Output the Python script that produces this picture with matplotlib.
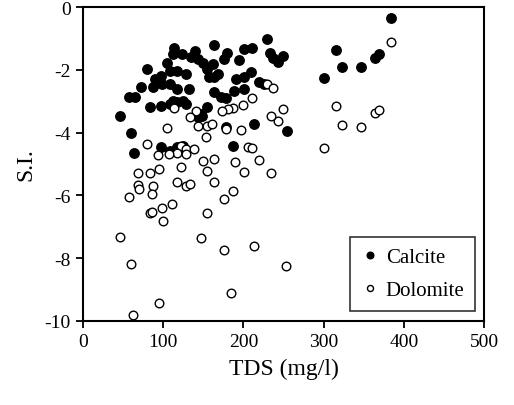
import matplotlib
matplotlib.use("Agg")
import matplotlib.pyplot as plt

plt.rcParams["font.family"] = ["Liberation Serif", "DejaVu Serif"]
plt.rcParams["axes.unicode_minus"] = False

# TDS (mg/l) and saturation index
calcite_tds = [384, 315, 323, 347, 364, 369, 301, 255, 249,
               230, 164, 211, 201, 114, 113, 140, 135, 144, 180, 176,
               233, 237, 243, 195, 150, 155, 105, 80, 118, 109,
               128, 168, 163, 157, 209, 201, 191, 97, 90, 219,
               226, 87, 99, 109, 118, 132, 72, 57, 65, 163,
               172, 178, 188, 201, 84, 97, 109, 118, 128, 147,
               155, 47, 60, 178, 213, 64, 97, 109, 118, 125,
               187, 124, 162, 143, 149, 113, 125]
calcite_si = [-0.35, -1.37, -1.91, -1.91, -1.63, -1.5, -2.27, -3.95, -1.56,
              -1.0, -1.2, -1.3, -1.34, -1.3, -1.5, -1.4, -1.6, -1.66, -1.45, -1.66,
              -1.45, -1.63, -1.76, -1.69, -1.77, -1.98, -1.77, -1.98, -2.03, -2.03,
              -2.14, -2.14, -2.24, -2.24, -2.08, -2.24, -2.3, -2.19, -2.3, -2.4,
              -2.46, -2.56, -2.46, -2.46, -2.62, -2.62, -2.53, -2.85, -2.85, -2.72,
              -2.85, -2.88, -2.68, -2.62, -3.19, -3.16, -3.09, -3.03, -3.09, -3.41,
              -3.19, -3.48, -4.02, -3.83, -3.73, -4.66, -4.47, -4.6, -4.47, -4.43,
              -4.43, -1.5, -1.8, -3.51, -3.48, -3.0, -3.0]

dolomite_tds = [384, 315, 323, 347, 364, 369, 301, 249, 243, 253,
                230, 237, 211, 199, 187, 181, 174, 234,
                141, 134, 143, 155, 161, 178, 197, 105, 153, 80,
                122, 128, 138, 118, 128, 94, 107, 206, 211, 150,
                163, 190, 219, 69, 84, 95, 122, 155, 201, 235,
                118, 128, 133, 163, 69, 70, 88, 86, 57, 187,
                176, 111, 99, 84, 86, 155, 100, 46, 147, 176,
                213, 60, 185, 95, 63, 114]
dolomite_si = [-1.12, -3.15, -3.76, -3.82, -3.36, -3.28, -4.5, -3.25, -3.63, -8.25,
               -2.46, -2.59, -2.88, -3.12, -3.22, -3.25, -3.31, -3.48,
               -3.31, -3.5, -3.79, -3.79, -3.73, -3.89, -3.92, -3.85, -4.15, -4.37,
               -4.43, -4.53, -4.53, -4.66, -4.69, -4.72, -4.69, -4.46, -4.5, -4.91,
               -4.85, -4.95, -4.88, -5.3, -5.27, -5.17, -5.08, -5.23, -5.26, -5.27,
               -5.58, -5.71, -5.65, -5.58, -5.68, -5.8, -5.71, -5.97, -6.06, -5.87,
               -6.12, -6.28, -6.41, -6.56, -6.53, -6.56, -6.82, -7.33, -7.37, -7.74,
               -7.62, -8.19, -9.1, -9.43, -9.81, -3.2]

fig = plt.figure(figsize=(5.14, 4.06), dpi=100)
ax = fig.add_axes([0.161, 0.207, 0.781, 0.773])

ax.plot(calcite_tds, calcite_si, "o", color="black", markersize=6.8,
        linestyle="none", label="Calcite")
ax.plot(dolomite_tds, dolomite_si, "o", markerfacecolor="white",
        markeredgecolor="black", markeredgewidth=1.0, markersize=6.2,
        linestyle="none", label="Dolomite")

ax.set_xlim(0, 500)
ax.set_ylim(-10, 0)
ax.set_xticks([0, 100, 200, 300, 400, 500])
ax.set_yticks([0, -2, -4, -6, -8, -10])
ax.set_xlabel("TDS (mg/l)", fontsize=17, labelpad=6)
ax.set_ylabel("S.I.", fontsize=17, labelpad=6)
ax.tick_params(direction="out", length=5, width=1.3, labelsize=14)
for s in ax.spines.values():
    s.set_linewidth(1.5)

leg = ax.legend(loc="lower right", fontsize=15, frameon=True, fancybox=False,
                edgecolor="black", handletextpad=0.3, borderpad=0.5,
                labelspacing=0.65, handlelength=0.9, markerscale=0.7,
                borderaxespad=0, bbox_to_anchor=(0.977, 0.032))
leg.get_frame().set_linewidth(1.2)

fig.savefig("out.png", dpi=100)
